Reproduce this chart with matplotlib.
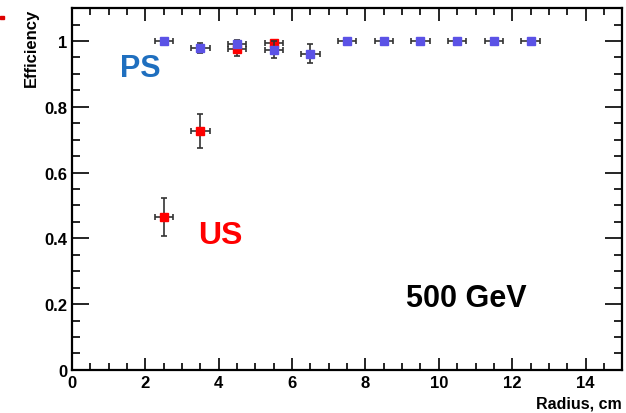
import matplotlib
matplotlib.use("Agg")
import matplotlib.pyplot as plt
from matplotlib.ticker import MultipleLocator
from matplotlib.patches import Rectangle

plt.rcParams['font.family'] = ['Liberation Sans', 'DejaVu Sans']

# PS series
ps_x = [2.5, 3.5, 4.5, 5.5, 6.5, 7.5, 8.5, 9.5, 10.5, 11.5, 12.5]
ps_y = [1.0, 0.979, 0.992, 0.973, 0.962, 1.0, 1.0, 1.0, 1.0, 1.0, 1.0]
ps_yerr = [0.0, 0.015, 0.012, 0.026, 0.03, 0.0, 0.0, 0.0, 0.0, 0.0, 0.0]

# US series
us_x = [2.5, 3.5, 4.5, 5.5]
us_y = [0.465, 0.727, 0.975, 0.993]
us_yerr = [0.058, 0.052, 0.02, 0.01]

xerr = 0.25

fig = plt.figure(figsize=(6.26, 4.14), dpi=100)
ax = fig.add_axes([0.115, 0.104, 0.879, 0.874])

ax.errorbar(us_x, us_y, xerr=xerr, yerr=us_yerr, fmt='s', color='#ff0000',
            ms=6, mec='#ff0000', ecolor='#333333', elinewidth=1.2, capsize=2.5,
            capthick=1.2, zorder=3)
ax.errorbar(ps_x, ps_y, xerr=xerr, yerr=ps_yerr, fmt='s', color='#5b52e6',
            ms=6, mec='#5b52e6', ecolor='#333333', elinewidth=1.2, capsize=2.5,
            capthick=1.2, zorder=4)

ax.set_xlim(0, 15)
ax.set_ylim(0, 1.1)
ax.xaxis.set_major_locator(MultipleLocator(2))
ax.xaxis.set_minor_locator(MultipleLocator(0.5))
ax.yaxis.set_major_locator(MultipleLocator(0.2))
ax.yaxis.set_minor_locator(MultipleLocator(0.05))
ax.set_yticks([0, 0.2, 0.4, 0.6, 0.8, 1.0])
ax.set_yticklabels(['0', '0.2', '0.4', '0.6', '0.8', '1'])

ax.tick_params(axis='both', which='both', direction='in', top=True, right=True,
               width=1.2, labelsize=12)
ax.tick_params(axis='x', which='major', length=9)
ax.tick_params(axis='x', which='minor', length=5)
ax.tick_params(axis='y', which='major', length=12)
ax.tick_params(axis='y', which='minor', length=6)
for lab in ax.get_xticklabels() + ax.get_yticklabels():
    lab.set_fontweight('bold')
    lab.set_family(['Liberation Sans Narrow', 'Liberation Sans'])
for s in ax.spines.values():
    s.set_linewidth(1.6)

ax.set_xlabel('Radius, cm', fontsize=11.5, fontweight='bold', loc='right')
ax.set_ylabel('Efficiency', fontsize=12, fontweight='bold', loc='top')

ax.text(1.3, 0.895, 'PS', color='#1f6fbf', fontsize=22, fontweight='bold')
ax.text(3.45, 0.385, 'US', color='#ff0000', fontsize=23, fontweight='bold')
ax.text(9.1, 0.195, '500 GeV', color='black', fontsize=22, fontweight='bold')

fig.add_artist(Rectangle((0, 0.952), 0.006, 0.008, transform=fig.transFigure,
                         color='#dd0000'))

fig.savefig('out.png', dpi=100)
